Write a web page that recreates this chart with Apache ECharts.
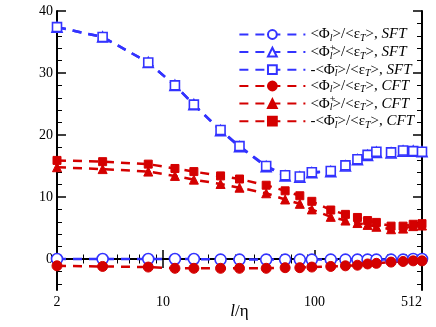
<!DOCTYPE html>
<html>
<head>
<meta charset="utf-8">
<script src="https://cdn.jsdelivr.net/npm/echarts@6/dist/echarts.min.js"></script>
<style>html,body{margin:0;padding:0;background:#fff}#c{width:436px;height:327px}</style>
</head>
<body>
<div id="c"></div>
<script>
// l/eta values (x)
const lEta = [2,4,8,12,16,24,32,48,64,80,96,128,160,192,224,256,320,384,448,512];
// SFT
const phiSFT      = [0,0,0,0,0,-0.1,-0.1,-0.1,-0.1,-0.1,-0.1,-0.1,-0.1,-0.1,-0.1,-0.1,-0.1,-0.1,0,0];
const phiPlusSFT  = [37.4,35.8,31.7,28.0,24.9,20.7,18.1,14.9,13.4,13.2,13.9,14.1,15.0,16.0,16.7,17.2,17.1,17.4,17.4,17.3];
const phiMinusSFT = [37.4,35.8,31.7,28.0,24.9,20.8,18.2,15.0,13.5,13.3,14.0,14.2,15.1,16.1,16.8,17.3,17.2,17.5,17.4,17.3];
// CFT
const phiCFT      = [-1.1,-1.2,-1.3,-1.5,-1.5,-1.5,-1.5,-1.5,-1.4,-1.4,-1.3,-1.2,-1.1,-1.0,-0.8,-0.7,-0.5,-0.4,-0.3,-0.3];
const phiPlusCFT  = [14.8,14.5,14.1,13.4,12.8,12.1,11.5,10.6,9.6,8.9,8.0,6.8,6.2,5.8,5.5,5.2,4.8,4.9,5.3,5.4];
const phiMinusCFT = [15.9,15.7,15.3,14.6,14.1,13.4,12.9,11.9,11.0,10.2,9.3,7.9,7.2,6.7,6.2,5.9,5.3,5.3,5.6,5.7];
// ticks
const xLabels = [2,10,100,512];
const xMajor = [10,100];
const xMinor = [3,4,5,6,7,8,9,20,30,40,50,60,70,80,90,200,300,400,500];
const yLabels = [0,10,20,30,40];
const yMinor = [-4,-2,2,4,6,8,12,14,16,18,22,24,26,28,32,34,36,38];

const BLUE = '#3333ff', RED = '#d40000';
const FONT = 'Liberation Serif';

const legendText = {
  s1: '{t|<Φ}{sub|l}{t|>/<ε}{sub|T}{t|>, }{it|SFT}',
  s2: '{t|<Φ}{sup|+}{sub|l}{t|>/<ε}{sub|T}{t|>, }{it|SFT}',
  s3: '{t|-<Φ}{sup|-}{sub|l}{t|>/<ε}{sub|T}{t|>, }{it|SFT}',
  s4: '{t|<Φ}{sub|l}{t|>/<ε}{sub|T}{t|>, }{it|CFT}',
  s5: '{t|<Φ}{sup|+}{sub|l}{t|>/<ε}{sub|T}{t|>, }{it|CFT}',
  s6: '{t|-<Φ}{sup|-}{sub|l}{t|>/<ε}{sub|T}{t|>, }{it|CFT}'
};

function mk(name, vals, color, symbol, size, open) {
  return {
    name: name, type: 'line', xAxisIndex: 0, yAxisIndex: 0,
    data: lEta.map((x, i) => [x, vals[i]]),
    symbol: symbol, symbolSize: size,
    showSymbol: true,
    lineStyle: { color: color, width: 2.5, type: [9, 7] },
    itemStyle: open ? { color: '#ffffff', borderColor: color, borderWidth: 1.6 }
                    : { color: color, borderColor: color, borderWidth: 1 },
    emphasis: { disabled: true },
    animation: false
  };
}

const gridPos = { left: 57, right: 14, top: 11, bottom: 37, containLabel: false, outerBoundsMode: 'none' };
const baseX = { type: 'log', min: 2, max: 512, splitLine: { show: false } };
const baseY = { type: 'value', min: -5, max: 40, splitLine: { show: false } };
const ax = (lineShow) => ({ show: lineShow, lineStyle: { color: '#000', width: 2 } });
const tk = (len, vals, w) => ({ show: true, inside: true, length: len, customValues: vals, lineStyle: { color: '#000', width: w } });

const chart = echarts.init(document.getElementById('c'), null, { renderer: 'canvas' });
chart.setOption({
  animation: false,
  backgroundColor: '#ffffff',
  grid: [Object.assign({}, gridPos), Object.assign({}, gridPos)],
  legend: {
    orient: 'vertical', right: 22, top: 27, padding: 0,
    itemWidth: 66, itemHeight: 11, itemGap: 0,
    selectedMode: false,
    formatter: n => legendText[n],
    textStyle: {
      fontFamily: FONT, fontSize: 15, color: '#000',
      rich: {
        t: { fontFamily: FONT, fontSize: 15, lineHeight: 17.6, color: '#000' },
        it: { fontFamily: FONT, fontSize: 15, fontStyle: 'italic', lineHeight: 17.6, color: '#000' },
        sub: { fontFamily: FONT, fontSize: 10, fontStyle: 'italic', lineHeight: 17.6, verticalAlign: 'bottom', color: '#000' },
        sup: { fontFamily: FONT, fontSize: 10, lineHeight: 17.6, verticalAlign: 'top', width: 0, color: '#000' }
      }
    },
    data: ['s1','s2','s3','s4','s5','s6']
  },
  xAxis: [
    Object.assign({}, baseX, {
      gridIndex: 0, position: 'bottom',
      name: '{i|l}{n|/η}', nameLocation: 'middle', nameGap: 13, nameMoveOverlap: false,
      nameTextStyle: { rich: { i: { fontFamily: FONT, fontSize: 17, fontStyle: 'italic', color: '#000' }, n: { fontFamily: FONT, fontSize: 17, color: '#000' } } },
      axisLine: ax(true), axisTick: tk(9, xMajor, 1.5),
      axisLabel: { show: true, customValues: xLabels, margin: 5, fontFamily: FONT, fontSize: 14, color: '#000', alignMaxLabel: 'right' }
    }),
    Object.assign({}, baseX, {
      gridIndex: 0, position: 'top',
      axisLine: ax(true), axisTick: tk(9, xMajor, 1.5), axisLabel: { show: false }
    }),
    Object.assign({}, baseX, {
      gridIndex: 1, position: 'bottom',
      axisLine: ax(false), axisTick: tk(4.5, xMinor, 1), axisLabel: { show: false }
    }),
    Object.assign({}, baseX, {
      gridIndex: 1, position: 'top',
      axisLine: ax(false), axisTick: tk(4.5, xMinor, 1), axisLabel: { show: false }
    })
  ],
  yAxis: [
    Object.assign({}, baseY, {
      gridIndex: 0, position: 'left',
      axisLine: ax(true), axisTick: tk(9, yLabels, 1.5),
      axisLabel: { show: true, customValues: yLabels, margin: 4, fontFamily: FONT, fontSize: 14, color: '#000' }
    }),
    Object.assign({}, baseY, {
      gridIndex: 0, position: 'right',
      axisLine: ax(true), axisTick: tk(9, yLabels, 1.5), axisLabel: { show: false }
    }),
    Object.assign({}, baseY, {
      gridIndex: 1, position: 'left',
      axisLine: ax(false), axisTick: tk(5, yMinor, 1), axisLabel: { show: false }
    }),
    Object.assign({}, baseY, {
      gridIndex: 1, position: 'right',
      axisLine: ax(false), axisTick: tk(5, yMinor, 1), axisLabel: { show: false }
    })
  ],
  series: [
    mk('s1', phiSFT, BLUE, 'circle', 11, true),
    mk('s2', phiPlusSFT, BLUE, 'triangle', 10, true),
    mk('s3', phiMinusSFT, BLUE, 'rect', 9, true),
    mk('s4', phiCFT, RED, 'circle', 10, false),
    mk('s5', phiPlusCFT, RED, 'triangle', 9, false),
    mk('s6', phiMinusCFT, RED, 'rect', 8, false)
  ]
});
</script>
</body>
</html>
